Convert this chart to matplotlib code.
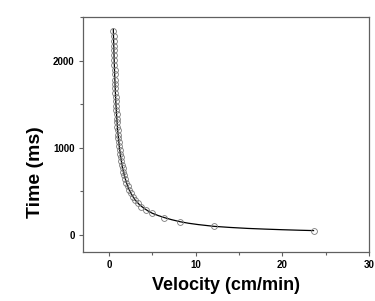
import matplotlib
matplotlib.use("Agg")
import matplotlib.pyplot as plt
from matplotlib.ticker import MultipleLocator

velocity = [0.51, 0.53, 0.54, 0.56, 0.57, 0.59, 0.60, 0.62, 0.64, 0.66,
            0.68, 0.70, 0.72, 0.74, 0.76, 0.78, 0.81, 0.84, 0.87, 0.90,
            0.93, 0.96, 1.00, 1.04, 1.08, 1.13, 1.18, 1.23, 1.29, 1.35,
            1.42, 1.50, 1.58, 1.67, 1.77, 1.89, 2.02, 2.16, 2.33, 2.52,
            2.75, 3.02, 3.35, 3.75, 4.30, 5.00, 6.40, 8.20, 12.1, 23.6]
time_ms = [2340, 2280, 2230, 2170, 2120, 2060, 2010, 1950, 1890, 1840,
           1780, 1730, 1680, 1630, 1580, 1530, 1480, 1430, 1380, 1330,
           1290, 1240, 1200, 1150, 1110, 1060, 1020, 975, 930, 890,
           845, 800, 760, 720, 680, 635, 595, 555, 515, 475,
           435, 395, 360, 320, 280, 245, 195, 145, 95, 45]

# fitted curve
fit_v = [0.50, 0.60, 0.70, 0.80, 0.90, 1.00, 1.20, 1.40, 1.60, 1.80,
         2.00, 2.30, 2.60, 3.00, 3.50, 4.00, 4.50, 5.00, 5.70, 6.40,
         7.20, 8.20, 9.20, 10.3, 12.1, 14.0, 16.0, 18.0, 20.0, 22.0, 23.6]
fit_t = [2360, 2000, 1720, 1500, 1340, 1200, 1000, 860, 750, 670,
         600, 520, 460, 400, 345, 305, 272, 245, 218, 195,
         172, 148, 130, 115, 95, 82, 71, 63, 56, 50, 46]

x_ticks = [0, 10, 20, 30]
y_ticks = [0, 1000, 2000]

plt.rcParams['font.family'] = ['Liberation Sans', 'DejaVu Sans']

fig = plt.figure(figsize=(3.75, 3.01), dpi=100)
ax = fig.add_axes([0.2213, 0.1628, 0.7627, 0.7807])

ax.plot(fit_v, fit_t, color='black', lw=0.9, zorder=2)
ax.plot(velocity, time_ms, linestyle='none', marker='o', markersize=4.2,
        markerfacecolor='none', markeredgecolor='#7a7a7a', markeredgewidth=0.6, zorder=3)

ax.set_xlim(-3, 30)
ax.set_ylim(-200, 2500)
ax.set_xticks(x_ticks)
ax.set_yticks(y_ticks)
ax.xaxis.set_minor_locator(MultipleLocator(5))
ax.yaxis.set_minor_locator(MultipleLocator(500))

for s in ax.spines.values():
    s.set_color('#606060')
    s.set_linewidth(0.9)

ax.tick_params(which='major', direction='out', length=3, width=0.8, color='#606060',
               labelsize=7, pad=3)
ax.tick_params(which='minor', direction='out', length=2, width=0.8, color='#606060')
for lab in ax.get_xticklabels() + ax.get_yticklabels():
    lab.set_fontweight('bold')

ax.set_xlabel('Velocity (cm/min)', fontsize=13, fontweight='bold', labelpad=5)
ax.set_ylabel('Time (ms)', fontsize=14, fontweight='bold')
ax.yaxis.set_label_coords(-0.136, 0.34)

fig.savefig('out.png', dpi=100)
